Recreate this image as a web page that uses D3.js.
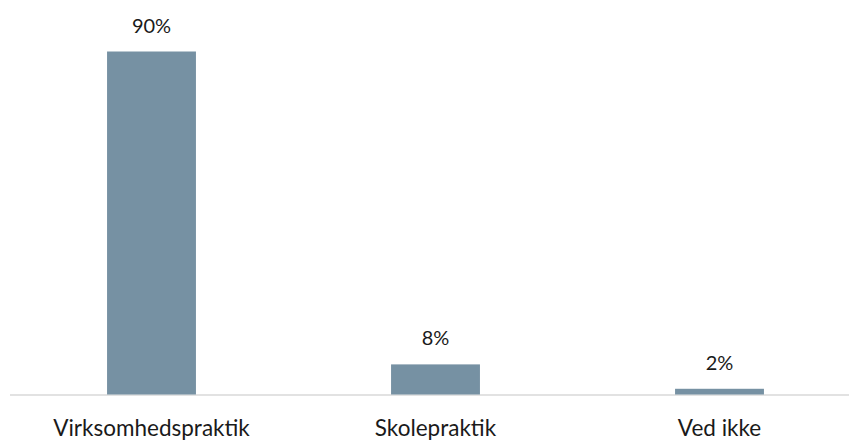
<!DOCTYPE html>
<html><head><meta charset="utf-8">
<script src="https://cdn.jsdelivr.net/npm/d3@7"></script>
<style>body{margin:0;background:#fff}svg{display:block}</style>
</head><body>
<svg id="c" width="849" height="441"></svg>
<script>
const categories = ["Virksomhedspraktik", "Skolepraktik", "Ved ikke"];
const values = [90, 7.9, 1.5];
const labels = ["90%", "8%", "2%"];

const svg = d3.select("#c");
const baseY = 394.5, topY = 51.5;
const x = d3.scaleBand().domain(categories).range([9.5, 861.5]).paddingInner(0.687).paddingOuter(0.3435);
const y = d3.scaleLinear().domain([0, 90]).range([baseY, topY]);

svg.append("line").attr("x1", 10).attr("x2", 849).attr("y1", baseY + 0.5).attr("y2", baseY + 0.5)
  .attr("stroke", "#d9d9d9").attr("stroke-width", 1.5);

svg.selectAll("rect.bar").data(values).enter().append("rect")
  .attr("x", (d, i) => x(categories[i]))
  .attr("width", x.bandwidth())
  .attr("y", d => y(d))
  .attr("height", d => baseY - y(d))
  .attr("fill", "#7691a3");

svg.selectAll("text.val").data(values).enter().append("text")
  .attr("x", (d, i) => x(categories[i]) + x.bandwidth() / 2)
  .attr("y", d => y(d) - 19)
  .attr("text-anchor", "middle")
  .attr("font-family", "Lato, 'Open Sans', sans-serif")
  .attr("font-size", 20)
  .attr("fill", "#1a1a1a")
  .text((d, i) => labels[i]);

svg.selectAll("text.cat").data(categories).enter().append("text")
  .attr("x", d => x(d) + x.bandwidth() / 2)
  .attr("y", 435.5)
  .attr("text-anchor", "middle")
  .attr("font-family", "Lato, 'Open Sans', sans-serif")
  .attr("font-size", 22.5)
  .attr("fill", "#1a1a1a")
  .text(d => d);
</script>
</body></html>
